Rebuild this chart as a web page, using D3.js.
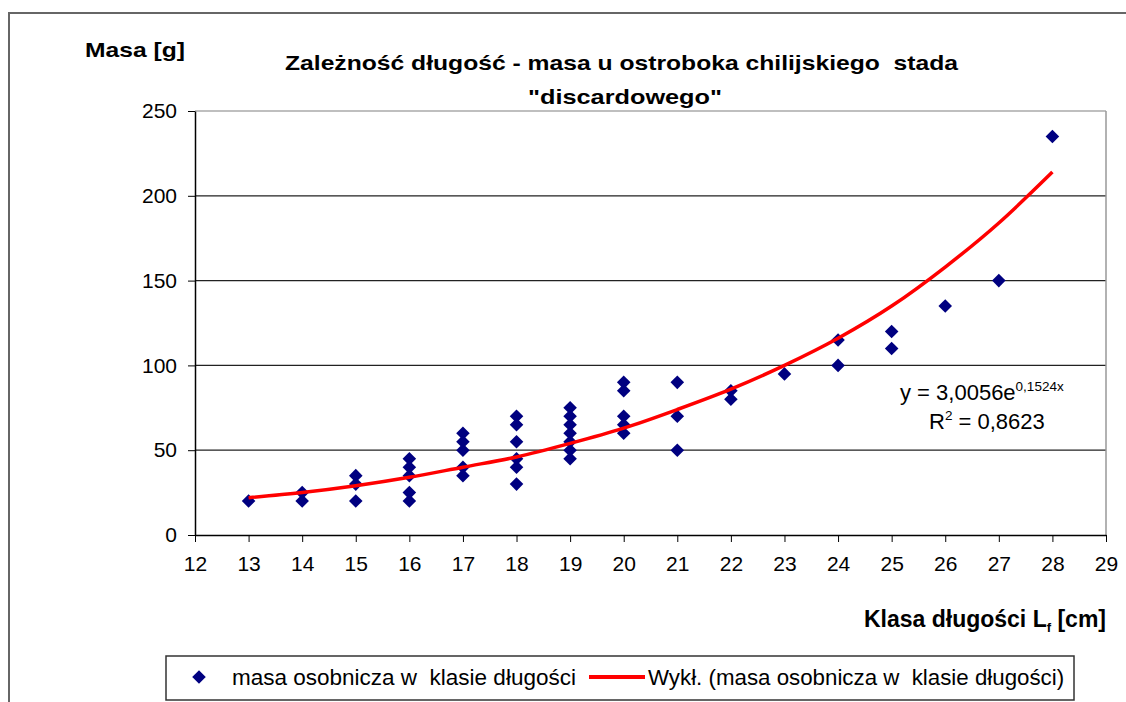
<!DOCTYPE html>
<html>
<head>
<meta charset="utf-8">
<script src="https://cdn.jsdelivr.net/npm/d3@7"></script>
<style>
  body { margin: 0; background: #fff; }
  svg { display: block; font-family: "Liberation Sans", Arial, sans-serif; }
  text { white-space: pre; }
  .axis text { font-size: 21px; fill: #000; }
  .axis path, .axis line { stroke: #000; }
</style>
</head>
<body>
<svg id="canvas1" width="1126" height="702"></svg>
<script>
// Scatter points: length class [cm] and individual mass [g]
var lengthClass = [13, 14, 14, 15, 15, 15, 16, 16, 16, 16, 16,
  17, 17, 17, 17, 17, 18, 18, 18, 18, 18, 18,
  19, 19, 19, 19, 19, 19, 19, 20, 20, 20, 20, 20,
  21, 21, 21, 22, 22, 23, 24, 24, 25, 25, 26, 27, 28];
var mass = [20, 25, 20, 35, 30, 20, 45, 40, 35, 25, 20,
  60, 55, 50, 40, 35, 70, 65, 55, 45, 40, 30,
  75, 70, 65, 60, 55, 50, 45, 90, 85, 70, 65, 60,
  90, 70, 50, 85, 80, 95, 115, 100, 120, 110, 135, 150, 235];

// Exponential trend line at each class
var trendX = [13, 14, 15, 16, 17, 18, 19, 20, 21, 22, 23, 24, 25, 26, 27, 28];
var trendY = [22, 25, 29, 34, 40, 46, 54, 63, 74, 86, 100, 116, 135, 158, 184, 214];

var xTicks = [12, 13, 14, 15, 16, 17, 18, 19, 20, 21, 22, 23, 24, 25, 26, 27, 28, 29];
var yTicks = [0, 50, 100, 150, 200, 250];

var svg1 = d3.select("#canvas1");

var margin = {top: 111, right: 20, bottom: 167, left: 195},
    width = 1106 - margin.left,
    height = 535 - margin.top;

var x = d3.scaleLinear().domain([12, 29]).range([0, width]);
var y = d3.scaleLinear().domain([0, 250]).range([height, 0]);

// Outer chart frame
svg1.append("path")
    .attr("d", "M9,710 L9,13 L1130,13")
    .style("fill", "none")
    .style("stroke", "#666")
    .style("stroke-width", 2);

var g = svg1.append("g")
    .attr("transform", "translate(" + margin.left + "," + margin.top + ")");

// Horizontal gridlines
g.selectAll(".grid")
    .data(yTicks.filter(function(d) { return d > 0; }))
    .enter().append("line")
    .attr("class", "grid")
    .attr("x1", 0)
    .attr("x2", width)
    .attr("y1", function(d) { return y(d); })
    .attr("y2", function(d) { return y(d); })
    .style("stroke", function(d) { return d === 250 ? "#808080" : "#222"; })
    .style("stroke-width", 1.2);

// Right border of plot area
g.append("line")
    .attr("x1", width).attr("x2", width)
    .attr("y1", 0).attr("y2", height)
    .style("stroke", "#999")
    .style("stroke-width", 1.5);

// X axis
var xAxis = d3.axisBottom(x).tickValues(xTicks).tickSize(7).tickSizeOuter(0).tickPadding(14);
g.append("g")
    .attr("class", "x axis")
    .attr("transform", "translate(0," + height + ")")
    .call(xAxis)
    .call(function(a) { a.select(".domain").style("stroke-width", 1.5); });

// Y axis
var yAxis = d3.axisLeft(y).tickValues(yTicks).tickSize(7).tickSizeOuter(0).tickPadding(11);
g.append("g")
    .attr("class", "y axis")
    .call(yAxis)
    .call(function(a) { a.select(".domain").style("stroke-width", 1.5); });

// Scatter diamonds
var diamond = d3.symbol().type(d3.symbolSquare).size(92);
g.selectAll(".dot")
    .data(mass)
    .enter().append("path")
    .attr("class", "dot")
    .attr("d", diamond)
    .attr("transform", function(d, i) {
        return "translate(" + x(lengthClass[i]) + "," + y(d) + ") rotate(45)";
    })
    .style("fill", "#000080");

// Trend line
var trendLine = d3.line()
    .x(function(d, i) { return x(trendX[i]); })
    .y(function(d) { return y(d); })
    .curve(d3.curveMonotoneX);

g.append("path")
    .attr("d", trendLine(trendY))
    .style("fill", "none")
    .style("stroke", "#ff0000")
    .style("stroke-width", 3.5);

// Equation labels
var eq = svg1.append("text")
    .attr("x", 900)
    .attr("y", 400)
    .style("font-size", "22px");
eq.append("tspan").text("y = 3,0056e");
eq.append("tspan").attr("dy", -9).style("font-size", "13.5px").text("0,1524x");

var r2 = svg1.append("text")
    .attr("x", 929)
    .attr("y", 429)
    .style("font-size", "22px");
r2.append("tspan").text("R");
r2.append("tspan").attr("dy", -9).style("font-size", "13.5px").text("2");
r2.append("tspan").attr("dy", 9).text(" = 0,8623");

// Titles
svg1.append("text")
    .attr("x", 85)
    .attr("y", 57)
    .style("font-size", "21px")
    .style("font-weight", "bold")
    .attr("textLength", 100)
    .attr("lengthAdjust", "spacingAndGlyphs")
    .text("Masa [g]");

svg1.append("text")
    .attr("x", 285)
    .attr("y", 70)
    .style("font-size", "21px")
    .style("font-weight", "bold")
    .attr("textLength", 673)
    .attr("lengthAdjust", "spacingAndGlyphs")
    .text("Zależność długość - masa u ostroboka chilijskiego  stada");

svg1.append("text")
    .attr("x", 528)
    .attr("y", 104)
    .style("font-size", "21px")
    .style("font-weight", "bold")
    .attr("textLength", 194)
    .attr("lengthAdjust", "spacingAndGlyphs")
    .text("\"discardowego\"");

var xt = svg1.append("text")
    .attr("x", 1106)
    .attr("y", 627)
    .attr("text-anchor", "end")
    .style("font-size", "23px")
    .style("font-weight", "bold");
xt.append("tspan").text("Klasa długości L");
xt.append("tspan").attr("dy", 5).style("font-size", "13px").text("f");
xt.append("tspan").attr("dy", -5).text(" [cm]");

// Legend
var legend = svg1.append("g");
legend.append("rect")
    .attr("x", 166).attr("y", 656)
    .attr("width", 908).attr("height", 44)
    .style("fill", "#fff")
    .style("stroke", "#333")
    .style("stroke-width", 1.5);

legend.append("path")
    .attr("d", diamond)
    .attr("transform", "translate(199,677) rotate(45)")
    .style("fill", "#000080");

legend.append("text")
    .attr("x", 232).attr("y", 685)
    .style("font-size", "22.5px")
    .text("masa osobnicza w  klasie długości");

legend.append("line")
    .attr("x1", 589).attr("x2", 645)
    .attr("y1", 677).attr("y2", 677)
    .style("stroke", "#ff0000")
    .style("stroke-width", 4);

legend.append("text")
    .attr("x", 648).attr("y", 685)
    .style("font-size", "22.3px")
    .text("Wykł. (masa osobnicza w  klasie długości)");
</script>
</body>
</html>
